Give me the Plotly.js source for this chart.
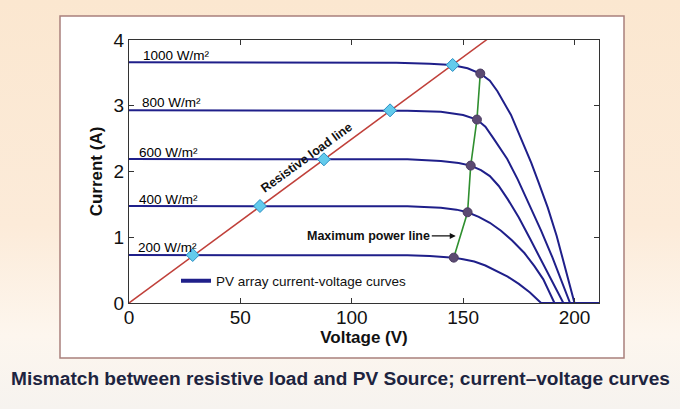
<!DOCTYPE html>
<html>
<head>
<meta charset="utf-8">
<script src="https://cdn.plot.ly/plotly-3.0.1.min.js"></script>
<style>
  html, body { margin:0; padding:0; width:680px; height:409px; overflow:hidden;
    background: linear-gradient(to bottom, #fbe7d0 0%, #fcebd9 55%, #fdf6ee 82%, #f6f3ef 100%); }
  #chart { width:680px; height:409px; }
</style>
</head>
<body>
<div id="chart"></div>
<script>
// ---- data ----
const irradianceLabels = ["1000 W/m²", "800 W/m²", "600 W/m²", "400 W/m²", "200 W/m²"];
const labelPosV = [5.5, 5.0, 3.8, 3.8, 3.0];
const labelPosI = [3.76, 3.05, 2.29, 1.58, 0.85];

const v1000 = [0, 100, 120, 135, 145, 152, 157.7, 162, 165.4, 171.5, 176.1, 180.6, 183.7, 188, 192, 196, 200, 211];
const i1000 = [3.66, 3.66, 3.655, 3.64, 3.62, 3.57, 3.49, 3.38, 3.22, 2.86, 2.50, 2.13, 1.85, 1.45, 1.02, 0.52, 0, 0];
const v800 = [0, 100, 125, 140, 150, 156.2, 160, 163.7, 169.8, 174.5, 180, 185, 190, 194, 198, 211];
const i800 = [2.93, 2.93, 2.925, 2.91, 2.86, 2.79, 2.68, 2.50, 2.19, 1.88, 1.48, 1.10, 0.70, 0.36, 0, 0];
const v600 = [0, 100, 125, 140, 148, 153.4, 158, 162, 166, 170, 175, 180, 185, 190, 195, 211];
const i600 = [2.19, 2.19, 2.185, 2.16, 2.13, 2.09, 2.02, 1.93, 1.78, 1.58, 1.30, 0.98, 0.66, 0.33, 0, 0];
const v400 = [0, 100, 125, 140, 147, 152, 157, 162, 167, 172, 177.5, 182, 186, 191, 211];
const i400 = [1.475, 1.475, 1.47, 1.45, 1.42, 1.38, 1.31, 1.22, 1.10, 0.95, 0.76, 0.56, 0.36, 0, 0];
const v200 = [0, 100, 125, 135, 141, 145.8, 150, 155, 160, 165, 170, 175, 180, 185, 211];
const i200 = [0.73, 0.73, 0.725, 0.715, 0.705, 0.69, 0.665, 0.63, 0.57, 0.49, 0.40, 0.29, 0.16, 0, 0];

const loadV = [0, 170];
const loadI = [0, 4.24];
const crossV = [28.6, 58.8, 87.5, 117.2, 145.3];
const crossI = [0.73, 1.475, 2.185, 2.93, 3.62];
const mppV = [145.8, 152.0, 153.4, 156.2, 157.7];
const mppI = [0.69, 1.38, 2.09, 2.79, 3.49];

const xTicks = [0, 50, 100, 150, 200];
const yTicks = [0, 1, 2, 3, 4];

// ---- styles ----
const FONT = "Liberation Sans, Arial, Helvetica, sans-serif";
const NAVY = "#1f1f8a";
const pvCurves = [[v1000, i1000], [v800, i800], [v600, i600], [v400, i400], [v200, i200]];

const traces = pvCurves.map(c => ({
  x: c[0], y: c[1], type: "scatter", mode: "lines",
  line: { color: NAVY, width: 2 }, showlegend: false, hoverinfo: "skip"
}));
traces.push({ x: [null], y: [null], type: "scatter", mode: "lines",
  name: "PV array current-voltage curves", line: { color: NAVY, width: 4 }, showlegend: true });
traces.push({ x: loadV, y: loadI, type: "scatter", mode: "lines",
  line: { color: "#c0403a", width: 1.5 }, showlegend: false });
traces.push({ x: mppV, y: mppI, type: "scatter", mode: "lines",
  line: { color: "#2f8f2f", width: 1.6 }, showlegend: false });
traces.push({ x: crossV, y: crossI, type: "scatter", mode: "markers",
  marker: { symbol: "diamond", size: 10, color: "#63cbec", line: { color: "#2a8fc4", width: 1 } }, showlegend: false });
traces.push({ x: mppV, y: mppI, type: "scatter", mode: "markers",
  marker: { symbol: "circle", size: 9, color: "#5b4a72", line: { color: "#4a3a60", width: 1 } }, showlegend: false });

const W = 470, H = 263, L = 129, T = 40;
const px = x => (x - L) / W;          // page px -> paper
const py = y => (T + H - y) / H;

const annotations = irradianceLabels.map((t, k) => ({
  x: labelPosV[k], y: labelPosI[k], xref: "x", yref: "y", text: t, showarrow: false,
  xanchor: "left", yanchor: "middle", font: { family: FONT, size: 13.5, color: "#000" }
}));
annotations.push({ x: 79.5, y: 2.21, xref: "x", yref: "y", text: "<b>Resistive load line</b>",
  showarrow: false, textangle: -36, font: { family: FONT, size: 12.5, color: "#111" } });
annotations.push({ x: 146.7, y: 1.02, xref: "x", yref: "y", text: "<b>Maximum power line</b>",
  showarrow: true, ax: -87, ay: 0, arrowhead: 2, arrowsize: 1, arrowwidth: 1.2, arrowcolor: "#111",
  standoff: 0, font: { family: FONT, size: 12.5, color: "#111" } });
annotations.push({ x: px(340), y: py(378), xref: "paper", yref: "paper",
  text: "<b>Mismatch between resistive load and PV Source; current–voltage curves</b>",
  showarrow: false, xanchor: "center", yanchor: "middle",
  font: { family: FONT, size: 19.1, color: "#1d2440" } });

const layout = {
  width: 680, height: 409,
  margin: { l: L, r: 680 - L - W, t: T, b: 409 - T - H, pad: 0 },
  paper_bgcolor: "rgba(0,0,0,0)", plot_bgcolor: "#ffffff",
  font: { family: FONT, color: "#111" },
  xaxis: { range: [0, 211], tickvals: xTicks, ticks: "inside", ticklen: 5, tickcolor: "#333",
    showline: true, linecolor: "#333", linewidth: 1, mirror: "ticks", showgrid: false, zeroline: false,
    ticklabelstandoff: -3,
    tickfont: { family: FONT, size: 19, color: "#111" },
    title: { text: "<b>Voltage (V)</b>", font: { family: FONT, size: 17, color: "#111" }, standoff: 2 } },
  yaxis: { range: [0, 4], tickvals: yTicks, ticks: "inside", ticklen: 5, tickcolor: "#333",
    showline: true, linecolor: "#333", linewidth: 1, mirror: "ticks", showgrid: false, zeroline: false,
    tickfont: { family: FONT, size: 19, color: "#111" },
    title: { text: "<b>Current (A)</b>", font: { family: FONT, size: 17, color: "#111" }, standoff: 6 } },
  showlegend: true,
  legend: { x: px(176), y: py(281), xanchor: "left", yanchor: "middle", bgcolor: "rgba(0,0,0,0)",
    borderwidth: 0, font: { family: FONT, size: 13.5, color: "#111" } },
  shapes: [{ type: "rect", xref: "paper", yref: "paper", layer: "below",
    x0: px(60), x1: px(624), y0: py(358), y1: py(16),
    fillcolor: "#ffffff", line: { color: "#a9807c", width: 1.5 } }],
  annotations: annotations
};

Plotly.newPlot("chart", traces, layout, { staticPlot: true, displayModeBar: false });
</script>
</body>
</html>
